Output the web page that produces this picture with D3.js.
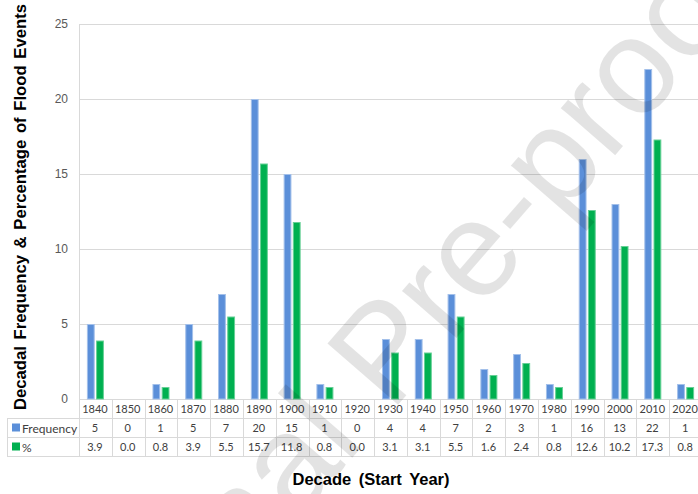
<!DOCTYPE html>
<html>
<head>
<meta charset="utf-8">
<script src="https://cdn.jsdelivr.net/npm/d3@7"></script>
<style>
  html, body { margin: 0; padding: 0; background: #fff; }
  svg { display: block; }
</style>
</head>
<body>
<svg id="chart" width="698" height="494"></svg>
<script>
// Decadal flood events: count per decade and share of all events (%)
const decades = ["1840","1850","1860","1870","1880","1890","1900","1910","1920","1930",
                 "1940","1950","1960","1970","1980","1990","2000","2010","2020"];
const frequency = [5,0,1,5,7,20,15,1,0,4,4,7,2,3,1,16,13,22,1];
const percent   = [3.9,0.0,0.8,3.9,5.5,15.7,11.8,0.8,0.0,3.1,3.1,5.5,1.6,2.4,0.8,12.6,10.2,17.3,0.8];
const seriesNames = ["Frequency", "%"];
const yTicks = [0, 5, 10, 15, 20, 25];

const series = [
  { name: seriesNames[0], values: frequency, fill: "#5b8fd9", edge: "#a3c0ea", fmt: d => String(d) },
  { name: seriesNames[1], values: percent,   fill: "#00b050", edge: "#66d096", fmt: d => d.toFixed(1) }
];

const svg = d3.select("#chart");
const plot = { left: 79, right: 702, top: 24, bottom: 399 };
const rowH = 19;
const tableLeft = 7;

const x = d3.scaleBand().domain(decades).range([plot.left, plot.right]).padding(0);
const y = d3.scaleLinear().domain([0, 25]).range([plot.bottom, plot.top]);
const xSub = d3.scaleBand().domain(seriesNames).range([-8.5, 8.5]).paddingInner(0.15);

const grid = "#d9d9d9";

// horizontal gridlines
svg.append("g").selectAll("line").data(yTicks).join("line")
  .attr("x1", plot.left).attr("x2", plot.right)
  .attr("y1", d => Math.round(y(d)) + 0.5).attr("y2", d => Math.round(y(d)) + 0.5)
  .attr("stroke", grid).attr("stroke-width", 1);

// left edge of the plot area
svg.append("line")
  .attr("x1", plot.left + 0.5).attr("x2", plot.left + 0.5)
  .attr("y1", y(25)).attr("y2", plot.bottom)
  .attr("stroke", grid);

// y tick labels
svg.append("g").selectAll("text").data(yTicks).join("text")
  .attr("x", 68).attr("y", d => y(d))
  .attr("dy", "0.35em")
  .attr("text-anchor", "end")
  .attr("font-family", "'Liberation Sans', Arial, sans-serif")
  .attr("font-size", 12)
  .attr("fill", "#595959")
  .text(d => d);

// bars
const groups = svg.append("g").selectAll("g").data(decades).join("g")
  .attr("transform", d => `translate(${x(d) + x.bandwidth() / 2},0)`);

groups.selectAll("rect")
  .data((d, i) => series.map(s => ({ s, v: s.values[i] })))
  .join("rect")
  .attr("x", d => xSub(d.s.name) + 0.5)
  .attr("width", xSub.bandwidth() - 1)
  .attr("y", d => y(d.v) + 0.5)
  .attr("height", d => Math.max(0, plot.bottom - y(d.v) - 0.5))
  .attr("fill", d => d.s.fill)
  .attr("stroke", d => d.s.edge)
  .attr("stroke-width", d => d.v > 0 ? 1 : 0);

// data table under the axis
const tFont = "Lato, 'Open Sans', sans-serif";
const numSize = 11;
const table = svg.append("g");
const rowTop = [plot.bottom, plot.bottom + rowH, plot.bottom + 2 * rowH, plot.bottom + 3 * rowH];

// horizontal rules
[1, 2, 3].forEach(r => {
  table.append("line")
    .attr("x1", tableLeft).attr("x2", plot.right)
    .attr("y1", rowTop[r] + 0.5).attr("y2", rowTop[r] + 0.5).attr("stroke", grid);
});

// vertical rules between decades
const bounds = decades.map(d => x(d)).concat([plot.right]);
table.selectAll("line.v").data(bounds).join("line")
  .attr("class", "v")
  .attr("x1", d => Math.round(d) + 0.5).attr("x2", d => Math.round(d) + 0.5)
  .attr("y1", rowTop[0]).attr("y2", rowTop[3])
  .attr("stroke", grid);
table.append("line")
  .attr("x1", tableLeft + 0.5).attr("x2", tableLeft + 0.5)
  .attr("y1", rowTop[1]).attr("y2", rowTop[3]).attr("stroke", grid);

// decade labels
table.selectAll("text.dec").data(decades).join("text")
  .attr("class", "dec")
  .attr("x", d => x(d) + x.bandwidth() / 2 - 0.5)
  .attr("y", rowTop[0] + rowH / 2 + 1)
  .attr("dy", "0.35em")
  .attr("text-anchor", "middle")
  .attr("font-family", tFont).attr("font-size", numSize).attr("fill", "#404040")
  .text(d => d);

// series rows with legend keys
series.forEach((s, r) => {
  const top = rowTop[r + 1];
  table.append("rect")
    .attr("x", 12).attr("y", top + 5.5).attr("width", 8).attr("height", 8)
    .attr("fill", s.fill);
  table.append("text")
    .attr("x", 22).attr("y", top + rowH / 2 + 1).attr("dy", "0.35em")
    .attr("font-family", tFont).attr("font-size", 12).attr("fill", "#404040")
    .text(s.name);
  table.selectAll(null).data(s.values).join("text")
    .attr("x", (d, i) => x(decades[i]) + x.bandwidth() / 2 - 0.5)
    .attr("y", top + rowH / 2 + 1).attr("dy", "0.35em")
    .attr("text-anchor", "middle")
    .attr("font-family", tFont).attr("font-size", numSize).attr("fill", "#404040")
    .text(d => s.fmt(d));
});

// axis titles
svg.append("text")
  .attr("transform", `translate(26,207) rotate(-90)`)
  .attr("text-anchor", "middle")
  .attr("font-family", "'Liberation Sans', Arial, sans-serif")
  .attr("font-weight", "bold").attr("font-size", 16.7)
  .attr("word-spacing", 2)
  .attr("fill", "#000")
  .text("Decadal Frequency & Percentage of Flood Events");

svg.append("text")
  .attr("x", 371).attr("y", 485)
  .attr("text-anchor", "middle")
  .attr("font-family", "'Liberation Sans', Arial, sans-serif")
  .attr("font-weight", "bold").attr("font-size", 16.5)
  .attr("word-spacing", 3)
  .attr("fill", "#000")
  .text("Decade (Start Year)");

// diagonal status stamp over the figure
svg.append("text")
  .attr("transform", "translate(418,382) rotate(-49)")
  .attr("text-anchor", "middle")
  .attr("font-family", "'Liberation Sans', Arial, sans-serif")
  .attr("font-size", 136)
  .attr("fill", "#000").attr("fill-opacity", 0.11)
  .text("Journal Pre-proof");
</script>
</body>
</html>
